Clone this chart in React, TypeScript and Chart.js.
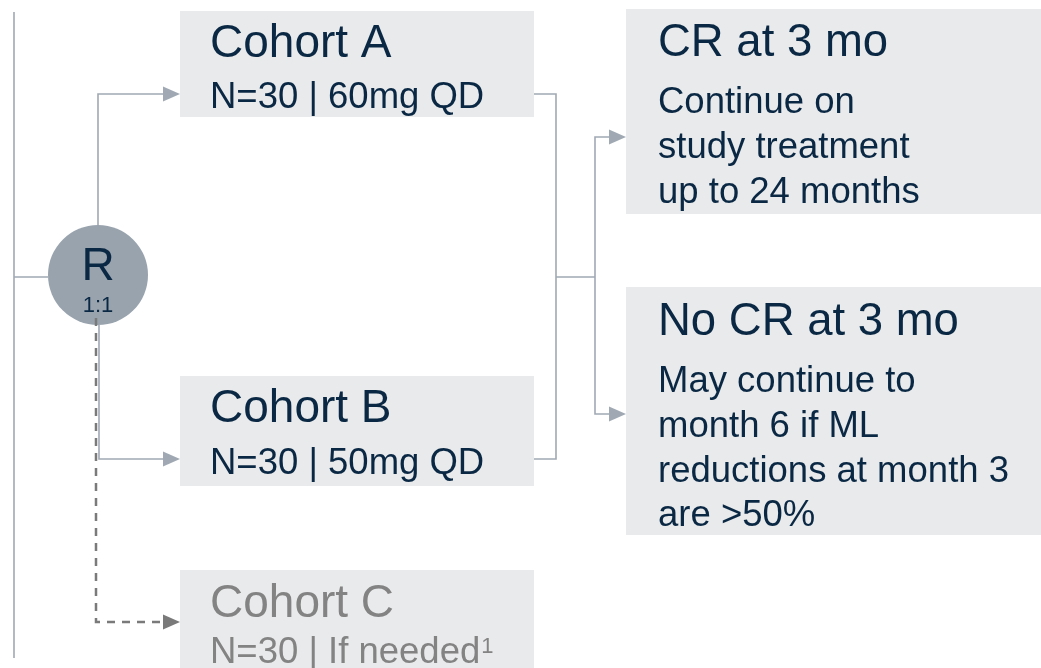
import { useEffect, useRef } from "react";
import { Chart, registerables } from "chart.js";

Chart.register(...registerables);

// ---- Content (text of the diagram) ----
const cohortTitles = ["Cohort A", "Cohort B", "Cohort C"];
const cohortDetails = ["N=30 | 60mg QD", "N=30 | 50mg QD", "N=30 | If needed"];
const cohortFootnotes = ["", "", "1"];
const cohortMuted = [false, false, true];
const outcomeTitles = ["CR at 3 mo", "No CR at 3 mo"];
const outcomeLines = [
  ["Continue on", "study treatment", "up to 24 months"],
  ["May continue to", "month 6 if ML", "reductions at month 3", "are >50%"],
];
const randomLabel = "R";
const ratioLabel = "1:1";

// ---- Diagram geometry (in diagram units, mapped through the chart scales) ----
const W = 1041;
const H = 668;
const layout = {
  cohortBoxes: [
    { x0: 180, x1: 534, y0: 11, y1: 117, title: 57, detail: 108 },
    { x0: 180, x1: 534, y0: 376, y1: 486, title: 422, detail: 474 },
    { x0: 180, x1: 534, y0: 570, y1: 668, title: 617, detail: 663 },
  ],
  outcomeBoxes: [
    { x0: 626, x1: 1041, y0: 9, y1: 214, title: 56, lines: [113, 158, 203] },
    { x0: 626, x1: 1041, y0: 287, y1: 535, title: 335, lines: [392, 437, 482, 526] },
  ],
  textInset: 30,
  circle: { x: 98, y: 275, r: 50 },
  arrows: [
    { x: 180, y: 94, muted: false },
    { x: 180, y: 459, muted: false },
    { x: 180, y: 622, muted: true },
    { x: 626, y: 137, muted: false },
    { x: 626, y: 414, muted: false },
  ],
};

const connectorPaths = [
  [{ x: 14, y: 12 }, { x: 14, y: 658 }],
  [{ x: 14, y: 277 }, { x: 48, y: 277 }],
  [{ x: 98, y: 225 }, { x: 98, y: 94 }, { x: 165, y: 94 }],
  [{ x: 99, y: 325 }, { x: 99, y: 459 }, { x: 165, y: 459 }],
  [{ x: 534, y: 94 }, { x: 556, y: 94 }, { x: 556, y: 459 }, { x: 534, y: 459 }],
  [{ x: 556, y: 277 }, { x: 595, y: 277 }],
  [{ x: 610, y: 137 }, { x: 595, y: 137 }, { x: 595, y: 414 }, { x: 610, y: 414 }],
];
const dashedPaths = [[{ x: 96, y: 318 }, { x: 96, y: 622 }, { x: 165, y: 622 }]];

// ---- Styles ----
const NAVY = "#0a2843";
const MUTED = "#838383";
const LINE = "#a0a9b3";
const DASH = "#7a7a7a";
const BOX = "#e9eaec";
const CIRCLE = "#99a3ae";
const FONT = "'Liberation Sans', Arial, Helvetica, sans-serif";

const diagramPlugin = {
  id: "diagram",
  beforeDatasetsDraw(chart: any) {
    const { ctx, scales } = chart;
    const X = (v: number) => scales.x.getPixelForValue(v);
    const Y = (v: number) => scales.y.getPixelForValue(v);
    ctx.save();
    ctx.fillStyle = BOX;
    [...layout.cohortBoxes, ...layout.outcomeBoxes].forEach((b) => {
      ctx.fillRect(X(b.x0), Y(b.y0), X(b.x1) - X(b.x0), Y(b.y1) - Y(b.y0));
    });
    const c = layout.circle;
    ctx.fillStyle = CIRCLE;
    ctx.beginPath();
    ctx.arc(X(c.x), Y(c.y), Math.abs(X(c.x + c.r) - X(c.x)), 0, Math.PI * 2);
    ctx.fill();
    ctx.restore();
  },
  afterDatasetsDraw(chart: any) {
    const { ctx, scales } = chart;
    const X = (v: number) => scales.x.getPixelForValue(v);
    const Y = (v: number) => scales.y.getPixelForValue(v);
    ctx.save();
    // arrowheads
    layout.arrows.forEach((a) => {
      ctx.fillStyle = a.muted ? DASH : LINE;
      ctx.beginPath();
      ctx.moveTo(X(a.x), Y(a.y));
      ctx.lineTo(X(a.x - 17), Y(a.y - 7.5));
      ctx.lineTo(X(a.x - 17), Y(a.y + 7.5));
      ctx.closePath();
      ctx.fill();
    });
    ctx.textBaseline = "alphabetic";
    // circle labels
    const c = layout.circle;
    ctx.fillStyle = NAVY;
    ctx.textAlign = "center";
    ctx.font = `46px ${FONT}`;
    ctx.fillText(randomLabel, X(c.x), Y(280));
    ctx.font = `22px ${FONT}`;
    ctx.fillText(ratioLabel, X(c.x), Y(312));
    ctx.textAlign = "left";
    // cohort boxes
    layout.cohortBoxes.forEach((b, i) => {
      const tx = X(b.x0 + layout.textInset);
      ctx.fillStyle = cohortMuted[i] ? MUTED : NAVY;
      ctx.font = `46px ${FONT}`;
      ctx.fillText(cohortTitles[i], tx, Y(b.title));
      ctx.font = `36.5px ${FONT}`;
      ctx.fillText(cohortDetails[i], tx, Y(b.detail));
      if (cohortFootnotes[i]) {
        const w = ctx.measureText(cohortDetails[i]).width;
        ctx.font = `22px ${FONT}`;
        ctx.fillText(cohortFootnotes[i], tx + w + 1, Y(b.detail - 10));
      }
    });
    // outcome boxes
    layout.outcomeBoxes.forEach((b, i) => {
      const tx = X(b.x0 + 32);
      ctx.fillStyle = NAVY;
      ctx.font = `45.5px ${FONT}`;
      ctx.fillText(outcomeTitles[i], tx, Y(b.title));
      ctx.font = `36.5px ${FONT}`;
      outcomeLines[i].forEach((line, j) => ctx.fillText(line, tx, Y(b.lines[j])));
    });
    ctx.restore();
  },
};

export default function App() {
  const ref = useRef<HTMLCanvasElement | null>(null);
  useEffect(() => {
    document.body.style.margin = "0";
    if (!ref.current) return;
    const datasets: any[] = [
      ...connectorPaths.map((p) => ({
        data: p,
        showLine: true,
        borderColor: LINE,
        borderWidth: 1.6,
        pointRadius: 0,
        fill: false,
        clip: false,
      })),
      ...dashedPaths.map((p) => ({
        data: p,
        showLine: true,
        borderColor: DASH,
        borderWidth: 2.5,
        borderDash: [8, 7],
        pointRadius: 0,
        fill: false,
        clip: false,
      })),
    ];
    const chart = new Chart(ref.current, {
      type: "scatter",
      data: { datasets },
      options: {
        animation: false,
        responsive: false,
        maintainAspectRatio: false,
        layout: { padding: 0 },
        events: [],
        plugins: { legend: { display: false }, tooltip: { enabled: false } },
        scales: {
          x: { type: "linear", min: 0, max: W, display: false },
          y: { type: "linear", min: 0, max: H, reverse: true, display: false },
        },
      },
      plugins: [diagramPlugin],
    });
    return () => chart.destroy();
  }, []);
  return (
    <div style={{ position: "absolute", left: 0, top: 0, width: W, height: H, background: "#fff" }}>
      <canvas ref={ref} width={W} height={H} style={{ display: "block" }} />
    </div>
  );
}
